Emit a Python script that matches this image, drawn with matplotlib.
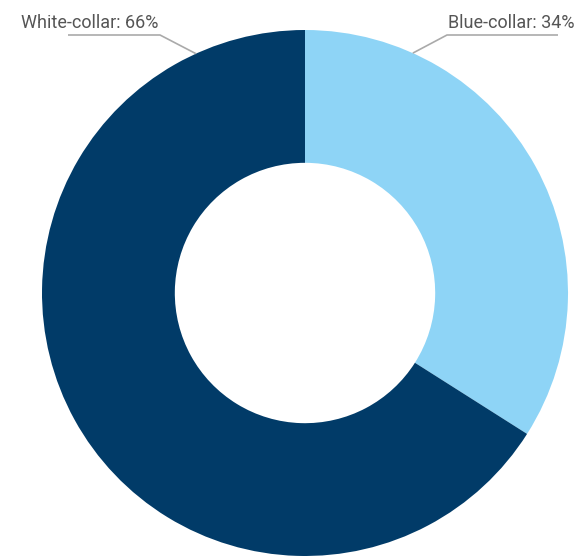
import matplotlib
matplotlib.use("Agg")
import matplotlib.pyplot as plt
import numpy as np

categories = ["Blue-collar", "White-collar"]
values = [34, 66]
colors = ["#8ed4f6", "#013b68"]

W, H = 579, 556
fig = plt.figure(figsize=(W / 100, H / 100), dpi=100)
ax = fig.add_axes([0, 0, 1, 1])

cx, cy, R = 305, H - 293, 263
ax.pie(values, colors=colors, startangle=90, counterclock=False,
       center=(cx, cy), radius=R, wedgeprops=dict(width=R * 0.505, linewidth=0),
       frame=True)
ax.set_xlim(0, W)
ax.set_ylim(0, H)
ax.set_aspect("equal")
ax.axis("off")

# leader lines + labels
specs = [
    # (category idx, angle deg, elbow x, line end x, text x)
    (0, 65.8, 447, 558, 448),
    (1, 114.5, 160, 68, 21),
]
ly = H - 35
for idx, ang, ex, lx, tx in specs:
    a = np.deg2rad(ang)
    px, py = cx + R * np.cos(a), cy + R * np.sin(a)
    ax.plot([px, ex, lx], [py, ly, ly], color="#aaaaaa", lw=1.2,
            solid_capstyle="butt")
    ax.text(tx, ly + 3, f"{categories[idx]}: {values[idx]}%", ha="left",
            va="bottom", fontsize=13, color="#555555", family="Roboto")

fig.savefig("out.png", dpi=100)
